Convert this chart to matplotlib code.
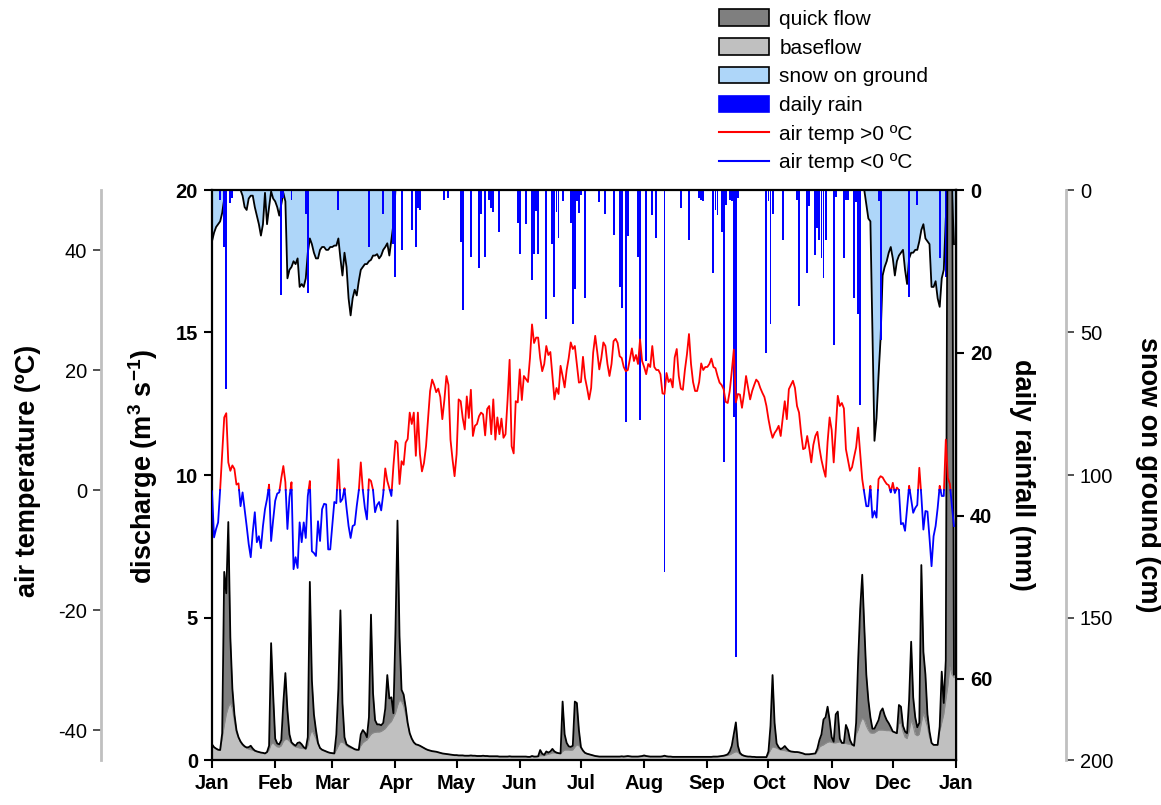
import matplotlib
matplotlib.use('Agg')
import matplotlib.pyplot as plt
import numpy as np
from matplotlib.patches import Patch
from matplotlib.lines import Line2D

plt.rcParams['font.family'] = 'Liberation Sans'
plt.rcParams['mathtext.fontset'] = 'custom'
plt.rcParams['mathtext.rm'] = 'Liberation Sans'
plt.rcParams['mathtext.bf'] = 'Liberation Sans:bold'
plt.rcParams['axes.unicode_minus'] = False

month_starts = [0, 31, 59, 90, 120, 151, 181, 212, 243, 273, 304, 334, 365]
month_labels = ['Jan', 'Feb', 'Mar', 'Apr', 'May', 'Jun', 'Jul',
                'Aug', 'Sep', 'Oct', 'Nov', 'Dec', 'Jan']

# daily mean air temperature (ºC), day 0 = 1 Jan
air_temp = [
    -0.2, -7.9, -6.5, -5.4, 0.1, 6.0, 12.1, 12.8, 4.6, 3.2,
    4.1, 3.5, 0.9, 1.1, -2.7, -0.4, -3.2, -6.0, -9.0, -11.2,
    -7.0, -3.7, -8.7, -7.7, -9.7, -6.0, -3.2, -1.5, 0.9, -8.5,
    -5.0, -1.8, -0.6, -0.4, 2.0, 4.0, 1.3, -6.5, -1.2, 1.3,
    -13.2, -11.2, -13.0, -5.4, -8.7, -5.4, -8.0, -1.0, 1.5, -10.2,
    -10.5, -11.0, -5.2, -8.5, -3.2, -2.3, -2.4, -9.9, -9.9, -6.0,
    -2.0, -2.2, 5.1, -2.0, -1.5, 0.3, -3.0, -6.0, -8.0, -6.0,
    -5.8, -2.7, -0.2, 4.6, 0.0, -3.0, -4.9, 1.8, 1.5, 0.0,
    -3.7, -2.5, -2.0, -3.4, -0.7, 3.6, 1.5, 0.3, -1.0, 4.0,
    8.2, 7.8, 1.0, 4.8, 4.2, 7.9, 8.5, 12.9, 11.0, 12.9,
    5.7, 12.9, 6.0, 3.1, 4.5, 7.3, 12.0, 16.5, 18.4, 17.5,
    16.3, 16.9, 15.5, 11.8, 15.0, 19.0, 17.5, 8.4, 5.1, 2.3,
    6.0, 15.1, 14.8, 12.0, 10.1, 15.6, 12.0, 16.7, 9.0, 10.7,
    11.0, 12.3, 12.9, 12.6, 9.1, 13.5, 14.0, 9.3, 15.1, 8.4,
    12.1, 9.3, 11.9, 8.7, 9.3, 15.0, 21.7, 7.3, 6.1, 14.8,
    14.6, 20.1, 15.0, 19.0, 18.5, 18.0, 22.0, 27.6, 24.5, 25.4,
    25.4, 22.0, 19.8, 21.0, 24.0, 22.5, 23.0, 19.0, 15.1, 17.0,
    16.0, 20.7, 19.0, 17.1, 20.0, 22.0, 24.6, 23.5, 24.0, 21.0,
    17.9, 18.0, 22.2, 18.7, 17.0, 15.1, 17.0, 22.9, 25.7, 23.0,
    20.1, 22.0, 24.6, 24.0, 21.0, 19.0, 21.0, 24.8, 25.2, 24.5,
    22.3, 22.0, 20.5, 19.8, 20.0, 21.8, 23.6, 21.5, 22.5, 21.0,
    25.1, 21.5, 20.5, 19.3, 21.0, 20.5, 24.0, 20.5, 20.0, 20.0,
    19.3, 16.1, 16.0, 19.5, 18.0, 18.5, 17.1, 22.1, 23.5, 19.0,
    16.9, 16.7, 20.0, 22.6, 26.0, 21.0, 18.0, 16.5, 16.5, 18.0,
    21.1, 20.0, 20.5, 20.5, 21.0, 21.9, 20.5, 20.3, 19.0, 17.9,
    17.5, 16.8, 14.7, 14.5, 16.5, 19.8, 23.4, 14.6, 16.0, 15.9,
    13.7, 16.0, 19.0, 17.0, 15.1, 16.5, 17.5, 18.4, 18.0, 17.0,
    16.2, 15.5, 14.0, 11.8, 10.0, 8.7, 9.5, 10.0, 10.7, 9.0,
    12.0, 14.8, 11.8, 16.8, 17.5, 18.2, 17.0, 14.0, 12.9, 9.5,
    6.8, 7.0, 9.0, 7.0, 4.6, 7.5, 9.0, 9.7, 7.0, 5.0,
    3.5, 2.2, 8.0, 12.1, 10.0, 4.6, 10.0, 15.7, 14.0, 14.5,
    13.6, 6.8, 5.0, 3.2, 3.8, 5.5, 7.1, 10.4, 6.0, 1.8,
    -0.5, -2.7, -2.7, 0.7, -4.6, -3.5, -4.6, 1.8, 2.3, 2.1,
    1.5, 1.0, 0.8, -0.4, 1.2, -0.5, 0.4, 0.0, -5.7, -5.5,
    -6.8, -3.0, 0.7, -1.5, -3.8, -3.0, -2.5, 3.7, -1.0, -6.6,
    -3.5, -3.6, -8.0, -12.7, -7.7, -6.0, -3.0, 0.7, -1.0, -1.0,
    8.4, 2.0, 1.0, -2.7, -6.0,
]

# total discharge (m3/s)
discharge = [
    0.55, 0.45, 0.40, 0.36, 0.35, 0.94, 6.6, 5.85, 8.35, 4.3,
    2.5, 1.6, 1.05, 0.8, 0.65, 0.55, 0.48, 0.44, 0.45, 0.5,
    0.4, 0.33, 0.3, 0.28, 0.26, 0.25, 0.23, 0.28, 0.5, 4.1,
    2.3, 0.75, 0.58, 0.55, 0.7, 2.0, 3.05, 1.75, 0.9, 0.62,
    0.55, 0.5, 0.6, 0.62, 0.55, 0.45, 0.4, 0.8, 6.25, 2.8,
    1.6, 1.05, 0.6, 0.42, 0.36, 0.33, 0.3, 0.27, 0.25, 0.24,
    0.23, 0.9, 2.5, 5.25, 2.0, 0.8, 0.55, 0.5, 0.46, 0.42,
    0.38, 0.36, 0.36, 0.9, 1.05, 0.96, 0.8, 1.5, 5.1, 2.34,
    1.4, 1.25, 1.25, 1.22, 1.3, 1.8, 2.98, 2.16, 2.2, 1.64,
    4.5, 8.4, 4.33, 2.46, 2.3, 1.85, 1.3, 0.94, 0.75, 0.62,
    0.55, 0.53, 0.5, 0.46, 0.42, 0.38, 0.35, 0.33, 0.31, 0.3,
    0.29, 0.27, 0.25, 0.23, 0.22, 0.21, 0.2, 0.19, 0.18, 0.17,
    0.17, 0.16, 0.16, 0.16, 0.15, 0.15, 0.15, 0.16, 0.15, 0.15,
    0.14, 0.14, 0.14, 0.15, 0.14, 0.14, 0.13, 0.13, 0.13, 0.13,
    0.13, 0.12, 0.12, 0.12, 0.12, 0.12, 0.13, 0.12, 0.12, 0.12,
    0.12, 0.12, 0.12, 0.12, 0.12, 0.11, 0.11, 0.14, 0.12, 0.12,
    0.13, 0.35, 0.22, 0.18, 0.3, 0.26, 0.3, 0.39, 0.3, 0.26,
    0.24, 0.23, 2.05, 0.9, 0.6, 0.48, 0.46, 0.5, 2.05, 2.0,
    1.05, 0.45, 0.33, 0.25, 0.22, 0.2, 0.18, 0.16, 0.14, 0.13,
    0.12, 0.12, 0.12, 0.12, 0.12, 0.12, 0.12, 0.12, 0.12, 0.12,
    0.12, 0.13, 0.12, 0.13, 0.14, 0.13, 0.12, 0.12, 0.12, 0.12,
    0.13, 0.14, 0.16, 0.14, 0.13, 0.12, 0.12, 0.12, 0.12, 0.12,
    0.12, 0.13, 0.15, 0.13, 0.12, 0.12, 0.11, 0.11, 0.11, 0.11,
    0.11, 0.11, 0.11, 0.11, 0.11, 0.11, 0.11, 0.11, 0.11, 0.11,
    0.11, 0.11, 0.11, 0.11, 0.11, 0.11, 0.12, 0.12, 0.12, 0.13,
    0.14, 0.15, 0.17, 0.2, 0.3, 0.5, 0.9, 1.32, 0.5, 0.25,
    0.18, 0.15, 0.13, 0.12, 0.12, 0.11, 0.11, 0.1, 0.1, 0.1,
    0.1, 0.1, 0.1, 0.3, 1.2, 2.98, 1.3, 0.58, 0.45, 0.38,
    0.42, 0.49, 0.4, 0.33, 0.3, 0.29, 0.28, 0.28, 0.27, 0.25,
    0.23, 0.2, 0.2, 0.2, 0.21, 0.22, 0.23, 0.4, 0.7, 0.9,
    1.42, 1.5, 1.87, 1.4, 0.8, 0.64, 1.6, 1.7, 0.75, 0.6,
    0.6, 1.23, 1.05, 0.7, 0.55, 0.5, 1.3, 3.5, 5.3, 6.5,
    4.7, 3.0, 2.1, 1.5, 1.1, 1.1, 1.25, 1.4, 1.7, 1.81,
    1.57, 1.4, 1.29, 1.15, 1.0, 0.97, 0.94, 1.93, 1.87, 1.2,
    1.0, 0.94, 2.1, 4.15, 2.2, 1.5, 1.15, 1.3, 6.84, 3.8,
    3.0, 1.6, 1.0, 0.6, 0.53, 0.53, 0.53, 1.17, 3.1, 2.0,
    3.5, 25.0, 26.0, 24.0, 3.0,
]

# baseflow part of the discharge (m3/s)
baseflow = [
    0.55, 0.45, 0.40, 0.36, 0.35, 0.75, 1.2, 1.6, 1.85, 2.0,
    1.8, 1.35, 0.95, 0.78, 0.62, 0.52, 0.46, 0.42, 0.38, 0.36,
    0.34, 0.32, 0.3, 0.28, 0.26, 0.25, 0.23, 0.27, 0.35, 0.55,
    0.6, 0.52, 0.46, 0.45, 0.5, 0.65, 0.72, 0.72, 0.66, 0.58,
    0.5, 0.46, 0.44, 0.42, 0.41, 0.4, 0.38, 0.5, 0.85, 1.05,
    0.9, 0.75, 0.55, 0.42, 0.36, 0.33, 0.3, 0.27, 0.25, 0.24,
    0.23, 0.35, 0.5, 0.63, 0.62, 0.58, 0.5, 0.45, 0.42, 0.4,
    0.36, 0.35, 0.34, 0.5, 0.6, 0.66, 0.7, 0.8, 0.9, 0.95,
    0.97, 0.98, 0.98, 1.0, 1.05, 1.1, 1.2, 1.28, 1.35, 1.5,
    1.64, 1.9, 2.1, 2.05, 1.9, 1.6, 1.25, 0.92, 0.74, 0.62,
    0.55, 0.53, 0.5, 0.46, 0.42, 0.38, 0.35, 0.33, 0.31, 0.3,
    0.29, 0.27, 0.25, 0.23, 0.22, 0.21, 0.2, 0.19, 0.18, 0.17,
    0.17, 0.16, 0.16, 0.16, 0.15, 0.15, 0.15, 0.15, 0.15, 0.15,
    0.14, 0.14, 0.14, 0.14, 0.14, 0.14, 0.13, 0.13, 0.13, 0.13,
    0.13, 0.12, 0.12, 0.12, 0.12, 0.12, 0.12, 0.12, 0.12, 0.12,
    0.12, 0.12, 0.12, 0.12, 0.12, 0.11, 0.11, 0.12, 0.12, 0.12,
    0.12, 0.15, 0.15, 0.15, 0.18, 0.2, 0.22, 0.25, 0.25, 0.24,
    0.23, 0.23, 0.3, 0.35, 0.35, 0.35, 0.34, 0.35, 0.45, 0.53,
    0.5, 0.42, 0.32, 0.25, 0.22, 0.2, 0.18, 0.16, 0.14, 0.13,
    0.12, 0.12, 0.12, 0.12, 0.12, 0.12, 0.12, 0.12, 0.12, 0.12,
    0.12, 0.12, 0.12, 0.12, 0.12, 0.12, 0.12, 0.12, 0.12, 0.12,
    0.12, 0.12, 0.13, 0.13, 0.12, 0.12, 0.12, 0.12, 0.12, 0.12,
    0.12, 0.12, 0.13, 0.12, 0.12, 0.12, 0.11, 0.11, 0.11, 0.11,
    0.11, 0.11, 0.11, 0.11, 0.11, 0.11, 0.11, 0.11, 0.11, 0.11,
    0.11, 0.11, 0.11, 0.11, 0.11, 0.11, 0.11, 0.11, 0.12, 0.12,
    0.13, 0.14, 0.15, 0.16, 0.18, 0.22, 0.26, 0.29, 0.27, 0.2,
    0.16, 0.14, 0.13, 0.12, 0.12, 0.11, 0.11, 0.1, 0.1, 0.1,
    0.1, 0.1, 0.1, 0.2, 0.35, 0.46, 0.44, 0.42, 0.38, 0.35,
    0.34, 0.33, 0.31, 0.3, 0.29, 0.28, 0.27, 0.27, 0.26, 0.24,
    0.22, 0.2, 0.2, 0.2, 0.21, 0.22, 0.23, 0.3, 0.45, 0.5,
    0.53, 0.58, 0.62, 0.64, 0.62, 0.6, 0.6, 0.62, 0.64, 0.6,
    0.58, 0.58, 0.56, 0.55, 0.52, 0.5, 0.9, 1.05, 1.3, 1.46,
    1.4, 1.2, 1.05, 0.95, 0.94, 0.95, 1.0, 1.05, 1.05, 1.05,
    1.04, 1.03, 1.03, 1.02, 1.0, 0.97, 0.94, 1.29, 1.29, 1.0,
    0.8, 0.75, 1.0, 1.4, 1.2, 0.9, 0.85, 0.9, 1.3, 1.64,
    1.4, 1.17, 0.8, 0.6, 0.53, 0.53, 0.53, 1.0, 1.3, 1.6,
    2.1, 2.6, 3.27, 3.0, 2.9,
]

# snow depth on the ground (cm): Jan-Mar, then none until late Nov
snow_spring = [
    18, 15, 13, 12, 11, 8, 3, 0, 0, 0,
    0, 0, 0, 0, 0, 2, 6, 7, 3, 2,
    2, 6, 9, 12, 16, 12, 1, 12, 6, 0.5,
    3, 4, 6, 9, 5, 1, 4, 31, 28, 27,
    25, 26, 24, 34, 33, 34, 31, 22, 17, 19,
    22, 24, 24, 21, 20, 20, 21, 21, 20, 20,
    19.5, 19.5, 17, 24, 30, 22, 27, 38, 44, 38,
    35, 37, 32, 28, 27, 26, 26, 25, 24.5, 23,
    23, 22.5, 24, 23, 21, 20, 18.7, 23, 17.5, 12,
    0,
]
snow_summer = [0] * 229
snow_winter = [
    0, 5, 10, 11, 50, 88, 80, 65, 52, 30,
    27, 25, 22, 20, 24, 30, 25, 23, 22, 21,
    28, 33, 24, 22, 22, 21, 21, 18, 14, 12,
    17, 18, 19, 34, 34, 32, 38, 41, 31, 28,
    10, 0, 0, 0, 19,
]
snow_depth = snow_spring + snow_summer + snow_winter

# days with rain and the daily total (mm)
rain_day = [4, 6, 7, 9, 10, 34, 35, 39, 46, 47, 62, 77, 84, 89, 90, 93, 98,
            100, 101, 102, 114, 116, 122, 123, 127, 131, 132, 134, 136, 137,
            138, 141, 150, 151, 154, 157, 158, 159, 160, 164, 167, 168, 169,
            170, 172, 176, 177, 178, 179, 180, 181, 183, 190, 193, 197, 200,
            201, 203, 204, 209, 210, 213, 216, 218, 222, 230, 234, 239, 240,
            241, 246, 247, 248, 250, 251, 252, 254, 255, 256, 257, 258, 272,
            273, 274, 275, 280, 287, 288, 292, 293, 296, 297, 298, 299, 300,
            301, 305, 306, 310, 311, 312, 315, 316, 317, 318, 327, 328, 342,
            346, 357, 360, 361]
rain_mm = [1.2, 7.0, 24.5, 1.6, 1.0, 12.9, 1.0, 1.2, 2.9, 12.7, 2.5, 7.0, 2.9,
           6.6, 10.7, 7.4, 4.9, 7.0, 2.2, 2.5, 1.2, 1.0, 6.4, 14.7, 8.2, 9.6,
           3.0, 8.2, 1.2, 2.2, 2.7, 5.1, 4.1, 7.8, 4.2, 11.0, 7.8, 2.6, 7.8,
           15.8, 6.6, 13.1, 2.7, 5.9, 1.3, 4.1, 16.4, 12.1, 1.3, 2.8, 0.6,
           13.3, 1.5, 2.9, 5.5, 11.9, 14.5, 28.5, 5.7, 8.2, 28.2, 21.0, 3.1,
           5.9, 46.9, 2.2, 6.1, 1.0, 1.2, 1.4, 10.2, 2.5, 3.1, 5.2, 33.4, 1.8,
           1.2, 1.3, 27.9, 57.4, 1.0, 20.0, 1.3, 16.4, 2.9, 6.2, 1.2, 14.3,
           10.2, 2.0, 8.0, 4.7, 6.2, 8.4, 10.8, 6.2, 19.0, 0.8, 8.4, 1.2, 1.2,
           13.3, 1.5, 15.2, 26.4, 1.3, 18.4, 13.1, 1.8, 8.4, 10.7, 1.2]

days = np.arange(365)
assert len(air_temp) == 365 and len(discharge) == 365
assert len(baseflow) == 365 and len(snow_depth) == 365
assert len(rain_day) == len(rain_mm)

QUICK = '#7f7f7f'
BASE = '#c0c0c0'
SNOW = '#aed6f9'
RAIN = '#0000ff'
AXGRAY = '#c0c0c0'
TICK_FS = 14.5
LABEL_FS = 19.5


def split_at_zero(x, y):
    # add the zero crossings so the line can change colour exactly at 0 ºC
    xs, ys = [x[0]], [y[0]]
    for i in range(1, len(x)):
        y0, y1 = y[i - 1], y[i]
        if y0 * y1 < 0:
            xs.append(x[i - 1] + (x[i] - x[i - 1]) * y0 / (y0 - y1))
            ys.append(0.0)
        xs.append(x[i])
        ys.append(y1)
    return np.array(xs), np.array(ys)


fig = plt.figure(figsize=(11.61, 8.05), dpi=100)
ax = fig.add_axes([212 / 1161, 45 / 805, 744 / 1161, 570 / 805])
ax_snow = ax.twinx()
ax_rain = ax.twinx()
ax_temp = ax.twinx()

ax_snow.set_zorder(1)
ax_rain.set_zorder(2)
ax.set_zorder(3)
ax_temp.set_zorder(4)
for a in (ax, ax_snow, ax_rain, ax_temp):
    a.patch.set_visible(False)

# snow on ground, hanging from the top
ax_snow.fill_between(days, 0, snow_depth, color=SNOW, lw=0)
ax_snow.plot(days, snow_depth, color='black', lw=1.3)
ax_snow.set_ylim(200, 0)

# daily rain bars
ax_rain.bar(rain_day, rain_mm, width=0.95, color=RAIN, lw=0)
ax_rain.set_ylim(70, 0)

# discharge split into baseflow and quick flow
ax.fill_between(days, 0, baseflow, color=BASE, lw=0)
ax.fill_between(days, baseflow, discharge, color=QUICK, lw=0)
ax.plot(days, baseflow, color='#8a8a8a', lw=0.8)
ax.plot(days, discharge, color='black', lw=1.3)
ax.set_ylim(0, 20)
ax.set_xlim(0, 365)

# air temperature, red above freezing and blue below
tx, ty = split_at_zero(days.astype(float), np.array(air_temp))
ax_temp.plot(tx, np.ma.masked_less(ty, 0), color='#ff0000', lw=1.3)
ax_temp.plot(tx, np.ma.masked_greater(ty, 0), color='#0000ff', lw=1.3)
ax_temp.set_ylim(-45, 50)

# main axes frame and ticks
for s in ax.spines.values():
    s.set_linewidth(1.6)
ax.set_xticks(month_starts)
ax.set_xticklabels(month_labels, fontsize=TICK_FS, fontweight='bold')
ax.set_yticks([0, 5, 10, 15, 20])
ax.set_yticklabels(['0', '5', '10', '15', '20'], fontsize=TICK_FS,
                   fontweight='bold')
ax.tick_params(axis='both', direction='out', length=6, width=1.5, pad=4)

# rainfall on the right edge of the main frame
for s in ('left', 'top', 'bottom'):
    ax_rain.spines[s].set_visible(False)
ax_rain.spines['right'].set_linewidth(1.6)
ax_rain.set_yticks([0, 20, 40, 60])
ax_rain.set_yticklabels(['0', '20', '40', '60'], fontsize=TICK_FS,
                        fontweight='bold')
ax_rain.tick_params(axis='y', direction='out', length=6, width=1.5, pad=4)

# snow depth on an offset grey axis at the far right
for s in ('left', 'top', 'bottom'):
    ax_snow.spines[s].set_visible(False)
ax_snow.spines['right'].set_position(('outward', 79.2))
ax_snow.spines['right'].set_color(AXGRAY)
ax_snow.spines['right'].set_linewidth(2)
ax_snow.set_yticks([0, 50, 100, 150, 200])
ax_snow.tick_params(axis='y', direction='out', length=6, width=1.2,
                    labelsize=TICK_FS, color='#333333', pad=4)

# air temperature on an offset grey axis at the far left
for s in ('right', 'top', 'bottom'):
    ax_temp.spines[s].set_visible(False)
ax_temp.yaxis.tick_left()
ax_temp.spines['left'].set_visible(True)
ax_temp.spines['left'].set_position(('outward', 79.9))
ax_temp.spines['left'].set_color(AXGRAY)
ax_temp.spines['left'].set_linewidth(2)
ax_temp.set_yticks([-40, -20, 0, 20, 40])
ax_temp.tick_params(axis='y', direction='out', length=6, width=1.2,
                    labelsize=TICK_FS, color='#333333', pad=4)

# axis titles
lab = dict(fontsize=LABEL_FS, fontweight='bold', ha='center', va='center',
           transform=ax.transAxes)
ax.text(-0.247, 0.507, 'air temperature (ºC)', rotation=90, **lab)
ax.text(-0.093, 0.515, r'discharge (m$^\mathbf{3}$ s$^\mathbf{-1}$)',
        rotation=90, **lab)
ax.text(1.089, 0.5, 'daily rainfall (mm)', rotation=270, **lab)
ax.text(1.258, 0.5, 'snow on ground (cm)', rotation=270, **lab)

handles = [
    Patch(facecolor=QUICK, edgecolor='black', lw=1.2),
    Patch(facecolor=BASE, edgecolor='black', lw=1.2),
    Patch(facecolor=SNOW, edgecolor='black', lw=1.2),
    Patch(facecolor=RAIN, edgecolor=RAIN, lw=1.2),
    Line2D([], [], color='#ff0000', lw=1.5),
    Line2D([], [], color='#0000ff', lw=1.5),
]
labels = ['quick flow', 'baseflow', 'snow on ground', 'daily rain',
          'air temp >0 ºC', 'air temp <0 ºC']
fig.legend(handles, labels, loc='upper left',
           bbox_to_anchor=(719 / 1161, 1 - 9.5 / 805), frameon=False,
           fontsize=15, handlelength=2.4, handleheight=0.85,
           labelspacing=0.44, handletextpad=0.5, borderpad=0,
           borderaxespad=0)

fig.savefig('out.png', dpi=100)
